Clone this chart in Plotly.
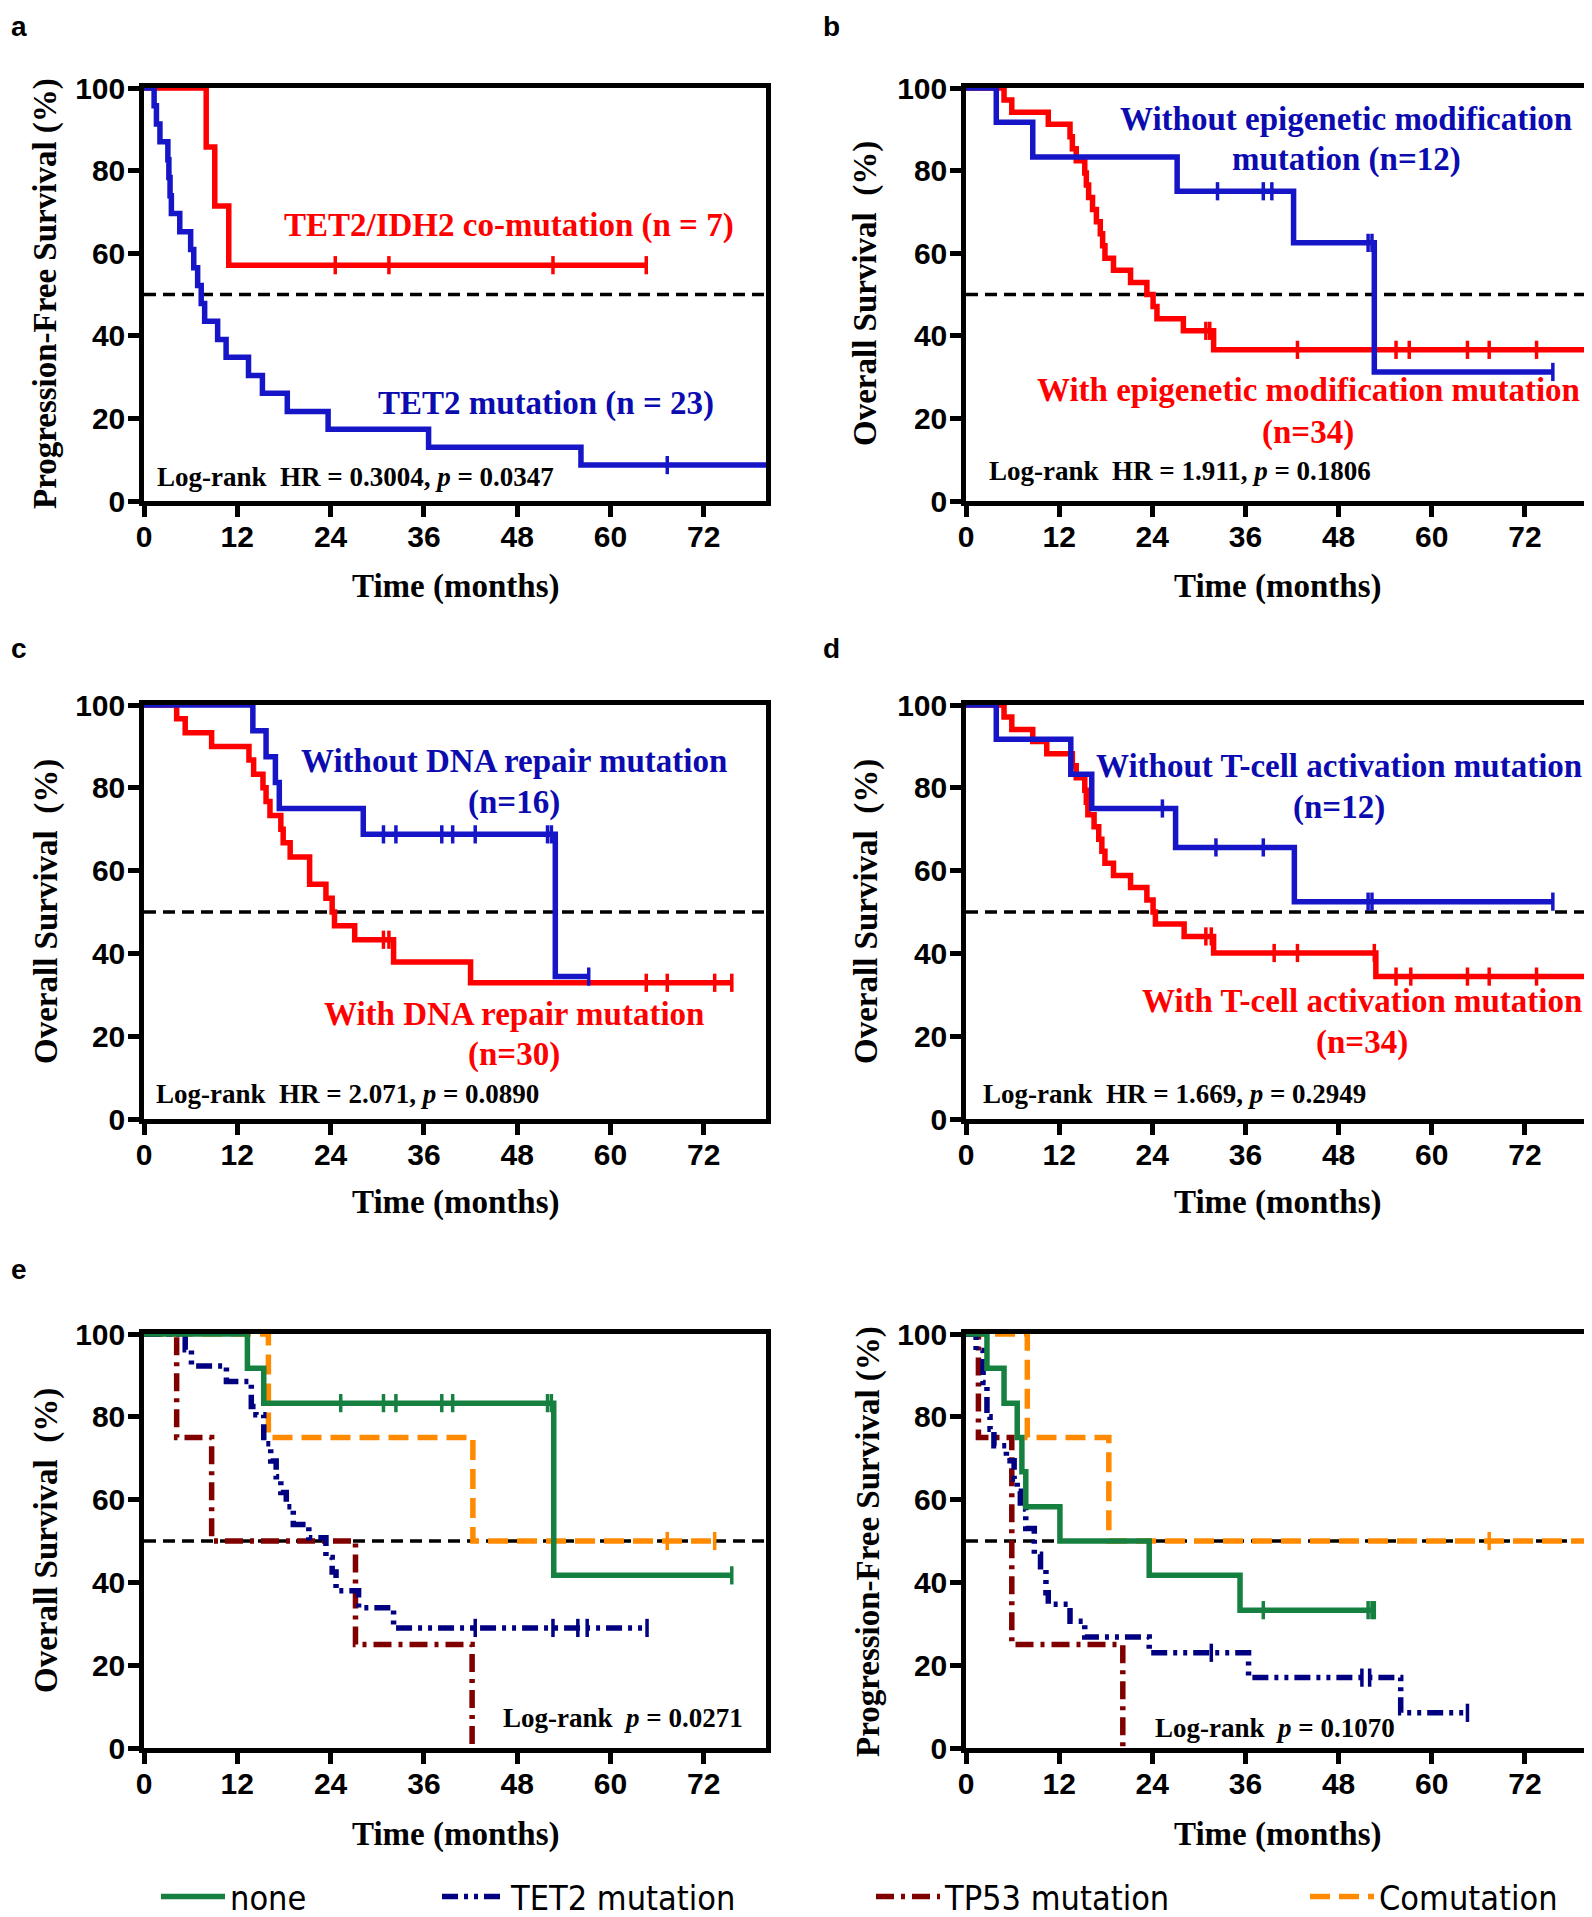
import plotly.graph_objects as go

W, H = 1592, 1917

# ---------------- data (months, survival %) ----------------
# Panel a: PFS
a_red_t = [0, 8.0, 9.1, 10.9, 64.6]
a_red_s = [100, 85.7, 71.4, 57.1, 57.1]
a_red_ct = [24.6, 31.5, 52.6, 64.6]
a_red_cs = [57.1, 57.1, 57.1, 57.1]
a_blue_t = [0, 1.3, 1.6, 2.05, 3.07, 3.2, 3.35, 3.52, 4.6, 6.0, 6.4, 6.9, 7.36, 7.8,
            9.47, 10.56, 13.44, 15.23, 18.43, 23.68, 36.6, 56.2, 80]
a_blue_s = [100, 95.7, 91.3, 87.0, 82.6, 78.3, 73.9, 69.6, 65.2, 60.9, 56.5, 52.2, 47.8, 43.5,
            39.1, 34.8, 30.4, 26.1, 21.7, 17.4, 13.0, 8.7, 8.7]
a_blue_ct = [67.3]
a_blue_cs = [8.7]

# Panel b: OS epigenetic
b_blue_t = [0, 3.9, 8.6, 27.2, 42.2, 52.6, 75.6]
b_blue_s = [100, 91.7, 83.3, 75.0, 62.5, 31.25, 31.25]
b_blue_ct = [32.4, 38.3, 39.4, 51.8, 52.3, 75.6]
b_blue_cs = [75.0, 75.0, 75.0, 62.5, 62.5, 31.25]
b_red_t = [0, 4.9, 5.9, 10.6, 13.4, 13.7, 14.2, 15.3, 15.5, 15.8, 16.3, 16.8, 17.3, 17.6,
           17.9, 19.0, 21.2, 23.3, 24.1, 24.6, 28.0, 31.9, 80]
b_red_s = [100, 97.1, 94.1, 91.2, 88.2, 85.3, 82.4, 79.4, 76.5, 73.5, 70.6, 67.6, 64.7, 61.8,
           58.8, 55.9, 52.9, 50.0, 47.1, 44.1, 41.2, 36.6, 36.6]
b_red_ct = [30.9, 31.4, 42.7, 55.4, 57.1, 64.6, 67.4, 73.5]
b_red_cs = [41.2, 41.2, 36.6, 36.6, 36.6, 36.6, 36.6, 36.6]

# Panel c: OS DNA repair
c_blue_t = [0, 14.0, 15.7, 16.9, 17.4, 28.2, 52.9, 57.2]
c_blue_s = [100, 93.75, 87.5, 81.25, 75.0, 68.75, 34.4, 34.4]
c_blue_ct = [30.8, 32.4, 38.3, 39.7, 42.6, 51.9, 52.4, 57.2]
c_blue_cs = [68.75] * 7 + [34.4]
c_red_t = [0, 4.2, 5.3, 8.7, 13.5, 14.1, 15.3, 15.7, 16.2, 17.6, 17.9, 18.8, 21.3, 23.4,
           24.2, 24.5, 27.1, 32.1, 42.0, 75.6]
c_red_s = [100, 96.7, 93.3, 90.0, 86.7, 83.3, 80.0, 76.7, 73.3, 70.0, 66.7, 63.3, 56.7, 53.3,
           50.0, 46.7, 43.3, 37.9, 32.9, 32.9]
c_red_ct = [30.8, 31.5, 64.6, 67.3, 73.4, 75.6]
c_red_cs = [43.3, 43.3, 32.9, 32.9, 32.9, 32.9]

# Panel d: OS T-cell activation
d_blue_t = [0, 3.9, 13.5, 16.2, 27.0, 42.3, 75.6]
d_blue_s = [100, 91.7, 83.3, 75.0, 65.6, 52.5, 52.5]
d_blue_ct = [25.3, 32.2, 38.3, 51.8, 52.3, 75.6]
d_blue_cs = [75.0, 65.6, 65.6, 52.5, 52.5, 52.5]
d_red_t = [0, 4.9, 5.9, 8.6, 10.4, 13.7, 14.2, 15.3, 15.5, 15.7, 16.5, 17.1, 17.5, 17.9,
           19.0, 21.2, 23.3, 24.1, 24.4, 28.1, 31.9, 52.8, 80]
d_red_s = [100, 97.1, 94.1, 91.2, 88.2, 85.3, 82.4, 79.4, 76.5, 73.5, 70.6, 67.6, 64.7, 61.8,
           58.8, 55.9, 52.9, 50.0, 47.1, 44.1, 40.1, 34.4, 34.4]
d_red_ct = [30.9, 31.6, 39.7, 42.7, 52.6, 55.4, 57.3, 64.6, 67.4, 73.5]
d_red_cs = [44.1, 44.1, 40.1, 40.1, 40.1, 34.4, 34.4, 34.4, 34.4, 34.4]

# Panel e (left): OS by group
el_none_t = [0, 13.3, 15.4, 52.7, 75.6]
el_none_s = [100, 91.7, 83.3, 41.7, 41.7]
el_none_ct = [25.3, 30.8, 32.4, 38.3, 39.7, 51.9, 52.4, 75.6]
el_none_cs = [83.3] * 7 + [41.7]
el_tet2_t = [0, 5.3, 6.1, 10.6, 13.8, 14.4, 15.4, 16.3, 17.0, 17.6, 18.3, 19.2, 21.2, 23.4,
             24.2, 24.7, 27.6, 32.1, 64.7]
el_tet2_s = [100, 96.2, 92.3, 88.5, 82.5, 80.5, 73.5, 69.3, 65.5, 61.7, 58.3, 54.0, 50.8, 46.0,
             42.5, 38.0, 33.9, 29.0, 29.0]
el_tet2_ct = [42.6, 52.6, 55.8, 57.0, 64.7]
el_tet2_cs = [29.0] * 5
el_tp53_t = [0, 4.2, 8.7, 27.2, 42.2]
el_tp53_s = [100, 75, 50, 25, 0]
el_comut_t = [0, 16.0, 42.3, 73.4]
el_comut_s = [100, 75, 50, 50]
el_comut_ct = [67.3, 73.4]
el_comut_cs = [50, 50]

# Panel e (right): PFS by group
er_none_t = [0, 2.7, 4.9, 6.6, 7.2, 7.7, 12.1, 23.6, 35.3, 52.6]
er_none_s = [100, 91.7, 83.3, 75.0, 66.7, 58.3, 50.0, 41.7, 33.3, 33.3]
er_none_ct = [38.3, 51.8, 52.3, 52.6]
er_none_cs = [33.3] * 4
er_tet2_t = [0, 1.3, 2.2, 2.7, 3.1, 3.6, 5.2, 6.2, 6.6, 7.0, 7.7, 8.8, 9.6, 10.3, 10.6,
             13.4, 15.3, 23.6, 36.4, 56.0, 64.6]
er_tet2_s = [100, 96.0, 88.3, 80.0, 77.0, 73.0, 69.4, 65.0, 62.0, 57.7, 53.0, 46.8, 43.0, 37.5, 34.7,
             30.6, 26.8, 23.0, 17.0, 8.5, 8.5]
er_tet2_ct = [31.6, 51.0, 52.0, 64.6]
er_tet2_cs = [23.0, 17.0, 17.0, 8.5]
er_tp53_t = [0, 1.6, 5.9, 20.2]
er_tp53_s = [100, 75, 25, 0]
er_comut_t = [0, 7.9, 18.4, 80]
er_comut_s = [100, 75, 50, 50]
er_comut_ct = [67.4]
er_comut_cs = [50]

x_ticks = [0, 12, 24, 36, 48, 60, 72]
y_ticks = [0, 20, 40, 60, 80, 100]
group_names = ["none", "TET2 mutation", "TP53 mutation", "Comutation"]

# ---------------- styling ----------------
RED, BLUE = "#FF0000", "#1616C8"
RED_T, BLUE_T = "#FF0000", "#0B0BB0"
GREEN, NAVY, DRED, ORANGE = "#168040", "#000080", "#800000", "#FF8A00"
SERIF = "Liberation Serif, Times New Roman, serif"
SANS = "Liberation Sans, Arial, sans-serif"
NARROW = "Liberation Sans Narrow, Arial Narrow, DejaVu Sans Condensed, sans-serif"
LW = 5.5
OFF = 8  # page body margin in px

def px(x):
    return (x - OFF) / W

def py(y):
    return 1 - (y - OFF) / H

col_dom = [[px(144), px(766)], [px(966), px(1587)]]
row_dom = [[py(501), py(88)], [py(1119), py(705)], [py(1748), py(1334)]]

fig = go.Figure()

panels = []
idx = 0
for r in range(3):
    for c in range(2):
        idx += 1
        panels.append((idx, c, r))

for i, c, r in panels:
    sx = "" if i == 1 else str(i)
    common = dict(showline=True, linewidth=4.5, linecolor="black", mirror=True,
                  ticks="outside", ticklen=11, tickwidth=4.5, tickcolor="black",
                  showgrid=False, zeroline=False, layer="below traces", automargin=False,
                  tickfont=dict(family=SANS, size=30, color="black", weight="bold"))
    fig.layout["xaxis" + sx] = dict(domain=col_dom[c], range=[0, 80], tickvals=x_ticks,
                                     anchor="y" + sx, ticklabelstandoff=-6, **common)
    fig.layout["yaxis" + sx] = dict(domain=row_dom[r], range=[0, 100], tickvals=y_ticks,
                                     anchor="x" + sx, ticklabelstandoff=-3, **common)
    fig.add_shape(type="line", xref="x" + sx, yref="y" + sx, x0=0, x1=80, y0=50, y1=50,
                  line=dict(color="black", width=3.5, dash="12px,7px"), layer="below")

def add_km(i, t, s, color, dash="solid", name=None, legend=None):
    sx = "" if i == 1 else str(i)
    fig.add_trace(go.Scatter(x=t, y=s, mode="lines", name=name,
                             line=dict(shape="hv", color=color, width=LW, dash=dash),
                             xaxis="x" + sx, yaxis="y" + sx,
                             showlegend=legend is not None,
                             legend=legend if legend else "legend",
                             hoverinfo="skip"))

def add_cens(i, t, s, color):
    sx = "" if i == 1 else str(i)
    fig.add_trace(go.Scatter(x=t, y=s, mode="markers",
                             marker=dict(symbol="line-ns-open", size=13, color=color,
                                         line=dict(color=color, width=3.5)),
                             xaxis="x" + sx, yaxis="y" + sx, showlegend=False,
                             hoverinfo="skip", cliponaxis=False))

add_km(1, a_red_t, a_red_s, RED); add_cens(1, a_red_ct, a_red_cs, RED)
add_km(1, a_blue_t, a_blue_s, BLUE); add_cens(1, a_blue_ct, a_blue_cs, BLUE)
add_km(2, b_red_t, b_red_s, RED); add_cens(2, b_red_ct, b_red_cs, RED)
add_km(2, b_blue_t, b_blue_s, BLUE); add_cens(2, b_blue_ct, b_blue_cs, BLUE)
add_km(3, c_red_t, c_red_s, RED); add_cens(3, c_red_ct, c_red_cs, RED)
add_km(3, c_blue_t, c_blue_s, BLUE); add_cens(3, c_blue_ct, c_blue_cs, BLUE)
add_km(4, d_red_t, d_red_s, RED); add_cens(4, d_red_ct, d_red_cs, RED)
add_km(4, d_blue_t, d_blue_s, BLUE); add_cens(4, d_blue_ct, d_blue_cs, BLUE)

D_TET2 = "16px,6px,4px,6px,4px,6px"
D_TP53 = "18px,7px,4px,7px"
D_COMUT = "20px,9px"

add_km(5, el_comut_t, el_comut_s, ORANGE, D_COMUT, group_names[3], "legend4")
add_cens(5, el_comut_ct, el_comut_cs, ORANGE)
add_km(5, el_tp53_t, el_tp53_s, DRED, D_TP53, group_names[2], "legend3")
add_km(5, el_tet2_t, el_tet2_s, NAVY, D_TET2, group_names[1], "legend2")
add_cens(5, el_tet2_ct, el_tet2_cs, NAVY)
add_km(5, el_none_t, el_none_s, GREEN, "solid", group_names[0], "legend")
add_cens(5, el_none_ct, el_none_cs, GREEN)

add_km(6, er_comut_t, er_comut_s, ORANGE, D_COMUT)
add_cens(6, er_comut_ct, er_comut_cs, ORANGE)
add_km(6, er_tp53_t, er_tp53_s, DRED, D_TP53)
add_km(6, er_tet2_t, er_tet2_s, NAVY, D_TET2)
add_cens(6, er_tet2_ct, er_tet2_cs, NAVY)
add_km(6, er_none_t, er_none_s, GREEN)
add_cens(6, er_none_ct, er_none_cs, GREEN)

# ---------------- annotations ----------------
ann = []

def note(i, x, y, text, color, size=33, xanchor="center"):
    sx = "" if i == 1 else str(i)
    ann.append(dict(xref="x" + sx, yref="y" + sx, x=x, y=y, text=text, showarrow=False,
                    xanchor=xanchor, yanchor="middle",
                    font=dict(family=SERIF, size=size, color=color, weight="bold")))

note(1, 46.9, 66.8, "TET2/IDH2 co-mutation (n = 7)", RED_T)
note(1, 51.7, 23.7, "TET2 mutation (n = 23)", BLUE_T)
note(1, 1.4, 5.8, "Log-rank  HR = 0.3004, <i>p</i> = 0.0347", "black", 27, "left")

note(2, 49.0, 92.5, "Without epigenetic modification", BLUE_T)
note(2, 49.0, 82.6, "mutation (n=12)", BLUE_T)
note(2, 44.1, 26.9, "With epigenetic modification mutation", RED_T)
note(2, 44.1, 16.7, "(n=34)", RED_T)
note(2, 2.7, 7.3, "Log-rank  HR = 1.911, <i>p</i> = 0.1806", "black", 27, "left")

note(3, 47.6, 86.4, "Without DNA repair mutation", BLUE_T)
note(3, 47.6, 76.5, "(n=16)", BLUE_T)
note(3, 47.6, 25.4, "With DNA repair mutation", RED_T)
note(3, 47.6, 15.5, "(n=30)", RED_T)
note(3, 1.3, 6.0, "Log-rank  HR = 2.071, <i>p</i> = 0.0890", "black", 27, "left")

note(4, 48.0, 85.2, "Without T-cell activation mutation", BLUE_T)
note(4, 48.0, 75.3, "(n=12)", BLUE_T)
note(4, 51.0, 28.5, "With T-cell activation mutation", RED_T)
note(4, 51.0, 18.4, "(n=34)", RED_T)
note(4, 1.9, 6.0, "Log-rank  HR = 1.669, <i>p</i> = 0.2949", "black", 27, "left")

note(5, 45.9, 7.3, "Log-rank  <i>p</i> = 0.0271", "black", 27, "left")
note(6, 24.1, 4.8, "Log-rank  <i>p</i> = 0.1070", "black", 27, "left")

def paper_text(x, y, text, size, family, angle=0, xanchor="center"):
    ann.append(dict(xref="paper", yref="paper", x=px(x), y=py(y), text=text, showarrow=False,
                    textangle=angle, xanchor=xanchor, yanchor="middle",
                    font=dict(family=family, size=size, color="black", weight="bold")))

for cx in (455, 1277):
    for cy in (587, 1202, 1834):
        paper_text(cx, cy, "Time (months)", 33, SERIF)
paper_text(46, 294, "Progression-Free Survival (%)", 33, SERIF, -90)
paper_text(866, 294, "Overall Survival  (%)", 33, SERIF, -90)
paper_text(46, 912, "Overall Survival  (%)", 33, SERIF, -90)
paper_text(866, 912, "Overall Survival  (%)", 33, SERIF, -90)
paper_text(46, 1541, "Overall Survival  (%)", 33, SERIF, -90)
paper_text(868, 1541, "Progression-Free Survival (%)", 33, SERIF, -90)
for lx, ly, lt in [(9, 27, "a"), (821, 27, "b"), (9, 648, "c"), (821, 648, "d"), (9, 1269, "e")]:
    paper_text(lx, ly, lt, 28, SANS, xanchor="left")

leg_common = dict(orientation="h", yanchor="middle", xanchor="left", bgcolor="rgba(0,0,0,0)",
                  font=dict(family=NARROW, size=34, color="black"), itemwidth=64,
                  tracegroupgap=0)
LEG_Y = py(1897)
fig.update_layout(
    width=W, height=H, margin=dict(l=0, r=0, t=0, b=0, pad=0, autoexpand=False),
    paper_bgcolor="white", plot_bgcolor="white",
    annotations=ann,
    legend=dict(x=px(156), y=LEG_Y, **leg_common),
    legend2=dict(x=px(437), y=LEG_Y, **leg_common),
    legend3=dict(x=px(871), y=LEG_Y, **leg_common),
    legend4=dict(x=px(1305), y=LEG_Y, **leg_common),
)

fig.write_html("out.html")
